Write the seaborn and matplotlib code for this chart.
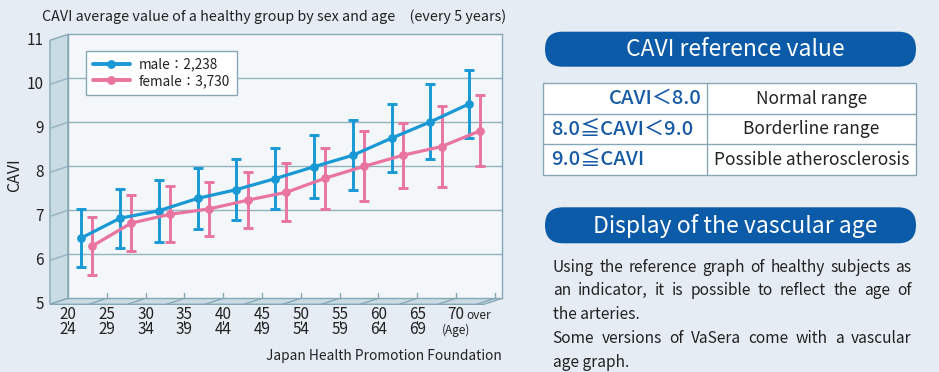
import matplotlib
matplotlib.use("Agg")
import numpy as np
import pandas as pd
import matplotlib.pyplot as plt
import seaborn as sns
from matplotlib.patches import Polygon, FancyBboxPatch, Rectangle
from matplotlib.lines import Line2D

# ---------------- data ----------------
age_from = ["20", "25", "30", "35", "40", "45", "50", "55", "60", "65", "70"]
age_to = ["24", "29", "34", "39", "44", "49", "54", "59", "64", "69", ""]
male_mean = [6.37, 6.82, 6.99, 7.27, 7.47, 7.72, 7.99, 8.25, 8.64, 9.01, 9.42]
male_sd = [0.65, 0.67, 0.70, 0.69, 0.70, 0.70, 0.72, 0.80, 0.78, 0.85, 0.78]
female_mean = [6.19, 6.71, 6.91, 7.03, 7.23, 7.41, 7.73, 8.00, 8.25, 8.45, 8.81]
female_sd = [0.65, 0.64, 0.64, 0.62, 0.63, 0.66, 0.69, 0.80, 0.74, 0.92, 0.81]
series_names = ["male", "female"]
legend_labels = ["male：2,238", "female：3,730"]
y_ticks = [5, 6, 7, 8, 9, 10, 11]
title = "CAVI average value of a healthy group by sex and age\u3000(every 5 years)"
source = "Japan Health Promotion Foundation"
ref_title = "CAVI reference value"
ref_conditions = ["CAVI＜8.0", "8.0≦CAVI＜9.0", "9.0≦CAVI"]
ref_meanings = ["Normal range", "Borderline range", "Possible atherosclerosis"]
age_title = "Display of the vascular age"
para_lines = [
    ("Using the reference graph of healthy subjects as", True),
    ("an indicator, it is possible to reflect the age of", True),
    ("the arteries.", False),
    ("Some versions of VaSera come with a vascular", True),
    ("age graph.", False),
]

# ---------------- style ----------------
W, H = 939, 372
BG = "#e6ecf3"
WALL = "#f4f7f9"
SIDE = "#c9dbe3"
EDGE = "#86a8b6"
GRID = "#93b3bf"
BLUE = "#1898d4"
PINK = "#e8749f"
NAVY = "#0c5ba9"
TBLUE = "#165aa6"
TXT = "#222222"

sns.set_theme(style="white")
plt.rcParams["font.family"] = ["Noto Sans CJK JP", "DejaVu Sans"]

fig = plt.figure(figsize=(W / 100, H / 100), dpi=100)
fig.patch.set_facecolor(BG)

# overlay axes in pixel coordinates
ov = fig.add_axes([0, 0, 1, 1])
ov.set_xlim(0, W)
ov.set_ylim(H, 0)
ov.axis("off")
ov.set_zorder(0)

# back wall geometry (pixels)
X0, X1, YT, YB = 68, 502, 34.3, 298.3
DX, DY = -18, 6
U = 38.8

ax = fig.add_axes([X0 / W, 1 - YB / H, (X1 - X0) / W, (YB - YT) / H])
ax.set_zorder(1)
ax.set_facecolor(WALL)


def py(v):
    return YB - (v - 5) * (YB - YT) / 6


# side wall and floor
ov.add_patch(Polygon([(X0, YT), (X0 + DX, YT + DY), (X0 + DX, YB + DY), (X0, YB)],
                     closed=True, fc=SIDE, ec=EDGE, lw=1))
ov.add_patch(Polygon([(X0, YB), (X1, YB), (X1 + DX, YB + DY), (X0 + DX, YB + DY)],
                     closed=True, fc=SIDE, ec=EDGE, lw=1))
for v in y_ticks[1:-1]:
    ov.plot([X0, X0 + DX], [py(v), py(v) + DY], color=GRID, lw=1)
for v in y_ticks:
    ov.text(44, py(v) + DY, str(v), ha="right", va="center", fontsize=11, color=TXT)
for i in range(1, 12):
    xp = X0 + i * U
    ov.plot([xp, xp + DX], [YB, YB + DY], color=EDGE, lw=1)

# ---------------- data plot ----------------
n = len(age_from)
pos_m = np.arange(n) + 0.34
pos_f = np.arange(n) + 0.63
df = pd.DataFrame({
    "pos": np.concatenate([pos_m, pos_f]),
    "CAVI": male_mean + female_mean,
    "sex": [series_names[0]] * n + [series_names[1]] * n,
})

for v in y_ticks[1:-1]:
    ax.axhline(v, color=GRID, lw=1, zorder=0)
for i in range(1, 12):
    ax.plot([i, i], [5, 5 + 5 / 44], color=EDGE, lw=1, clip_on=False, zorder=1)

ax.errorbar(pos_f, female_mean, yerr=female_sd, fmt="none", ecolor=PINK,
            elinewidth=2.1, capsize=3.9, capthick=2.1, zorder=2)
ax.errorbar(pos_m, male_mean, yerr=male_sd, fmt="none", ecolor=BLUE,
            elinewidth=2.1, capsize=3.9, capthick=2.1, zorder=2)
sns.lineplot(data=df, x="pos", y="CAVI", hue="sex",
             palette={series_names[0]: BLUE, series_names[1]: PINK},
             marker="o", markersize=6.3, markeredgewidth=0, linewidth=2.3,
             ax=ax, legend=False, errorbar=None, sort=False, zorder=3)

ax.set_xlim(0, (X1 - X0) / U)
ax.set_ylim(5, 11)
ax.set_xticks([])
ax.set_yticks([])
ax.set_xlabel("")
ax.set_ylabel("")
for s in ax.spines.values():
    s.set_color(EDGE)
    s.set_linewidth(1)
    s.set_visible(True)

handles = [Line2D([0], [0], color=BLUE, lw=2.8, marker="o", ms=6.3, mew=0),
           Line2D([0], [0], color=PINK, lw=2.8, marker="o", ms=6.3, mew=0)]
leg = ax.legend(handles, legend_labels, loc="upper left",
                bbox_to_anchor=(85.7 / W, 1 - 50.7 / H), bbox_transform=fig.transFigure,
                frameon=True, fancybox=False, edgecolor=EDGE, facecolor="white",
                framealpha=1, fontsize=9.8, handlelength=2.75, handletextpad=0.65,
                labelspacing=0.2, borderpad=0.5, borderaxespad=0)
leg.get_frame().set_linewidth(1)
for t in leg.get_texts():
    t.set_color(TXT)

# x category labels (two-line age ranges)
for i in range(n):
    xc = X0 + i * U
    if age_to[i]:
        ov.text(xc, 322.3, age_from[i] + "\n" + age_to[i], ha="center", va="center",
                fontsize=11, color=TXT, linespacing=0.86)
        ov.plot([xc, xc], [320.8, 323.6], color=TXT, lw=0.8)
    else:
        ov.text(xc, 314.5, age_from[i], ha="center", va="center", fontsize=11, color=TXT)
        ov.text(xc + 10.5, 315.5, "over", ha="left", va="center", fontsize=8.5, color=TXT)
        ov.text(xc, 330.5, "(Age)", ha="center", va="center", fontsize=8.5, color=TXT)

ov.text(X1, 355.7, source, ha="right", va="center", fontsize=9.9, color=TXT)
ov.text(15, 175, "CAVI", rotation=90, ha="center", va="center", fontsize=11.5, color=TXT)
ov.text(41.7, 17, title, ha="left", va="center", fontsize=10.3, color=TXT)

# ---------------- right panel ----------------
PL, PR = 545, 916


def pill(y0, y1, text):
    h = y1 - y0
    ov.add_patch(FancyBboxPatch((PL, y0), PR - PL, h,
                                boxstyle=f"round,pad=0,rounding_size={h / 2}",
                                fc=NAVY, ec="none"))
    ov.text((PL + PR) / 2 + 5, (y0 + y1) / 2 + 0.5, text, ha="center", va="center",
            fontsize=16.5, color="white")


pill(31.7, 66.7, ref_title)
pill(207.3, 243.3, age_title)

TL, TR, TC = 542.7, 915.7, 707.3
rows = [83.3, 114.0, 144.3, 175.0]
ov.add_patch(Rectangle((TL, rows[0]), TR - TL, rows[-1] - rows[0], fc="white", ec=EDGE, lw=1))
ov.plot([TC, TC], [rows[0], rows[-1]], color=EDGE, lw=1)
for r in rows[1:-1]:
    ov.plot([TL, TR], [r, r], color=EDGE, lw=1)
for k in range(3):
    yc = (rows[k] + rows[k + 1]) / 2
    if k == 0:
        ov.text(701.7, yc, ref_conditions[k], ha="right", va="center", fontsize=14.5,
                color=TBLUE, fontweight="medium")
    else:
        ov.text(550.7, yc, ref_conditions[k], ha="left", va="center", fontsize=14.5,
                color=TBLUE, fontweight="medium")
    ov.text((TC + TR) / 2, yc, ref_meanings[k], ha="center", va="center", fontsize=12.5,
            color=TXT)

# justified paragraph
renderer = fig.canvas.get_renderer()
PXL, PXR = 552.7, 911.7
for k, (line, just) in enumerate(para_lines):
    yb = 271.5 + 23.8 * k
    if not just:
        ov.text(PXL, yb, line, ha="left", va="baseline", fontsize=11.2, color=TXT)
        continue
    words = line.split(" ")
    texts = [ov.text(0, yb, w, ha="left", va="baseline", fontsize=11.2, color=TXT) for w in words]
    widths = [t.get_window_extent(renderer).width for t in texts]
    gap = (PXR - PXL - sum(widths)) / (len(words) - 1)
    x = PXL
    for t, wdt in zip(texts, widths):
        t.set_x(x)
        x += wdt + gap

fig.savefig("out.png", dpi=100, facecolor=BG)
